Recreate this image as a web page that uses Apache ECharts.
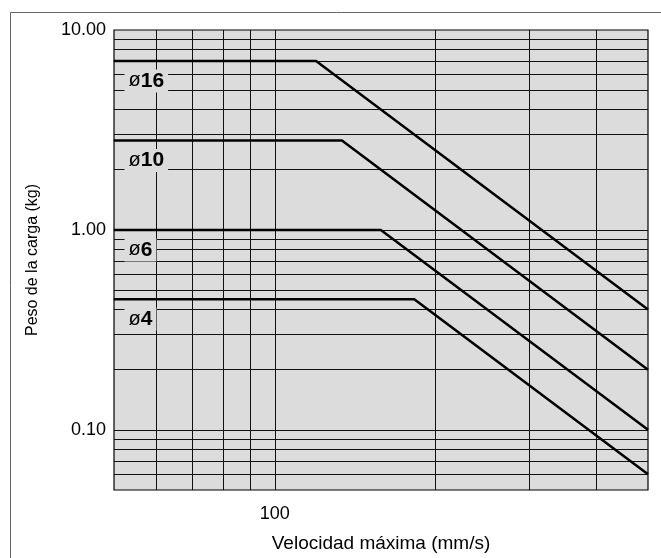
<!DOCTYPE html>
<html><head><meta charset="utf-8">
<script src="https://cdn.jsdelivr.net/npm/echarts@6/dist/echarts.min.js"></script>
<style>html,body{margin:0;padding:0;background:#fff;overflow:hidden}#c{width:661px;height:558px}</style>
</head><body><div id="c"></div>
<script>
// ---- data ----
const boreNames = ['16', '10', '6', '4'];            // cylinder bore (ø)
const flatLoad = [7.0, 2.8, 1.0, 0.45];             // kg, constant part
const cornerSpeed = [119.5, 133.6, 158, 182.5];     // mm/s, where the slope starts
const endLoad = [0.4, 0.2, 0.1, 0.06];              // kg at max speed
const speedRange = [50, 500];                       // mm/s
const loadRange = [0.05, 10];                       // kg
const xGridValues = [60, 70, 80, 90, 100, 200, 300, 400];
const yGridValues = [0.06, 0.07, 0.08, 0.09, 0.1, 0.2, 0.3, 0.4, 0.5, 0.6, 0.7, 0.8, 0.9,
                     1, 2, 3, 4, 5, 6, 7, 8, 9];
const xAxisTitle = 'Velocidad máxima (mm/s)';
const yAxisTitle = 'Peso de la carga (kg)';

const FONT = '"Liberation Sans", Arial, Helvetica, sans-serif';
const isDecade = v => Math.abs(Math.log10(v) - Math.round(Math.log10(v))) < 1e-6;

const chart = echarts.init(document.getElementById('c'), null, {renderer: 'canvas'});

const lineSeries = boreNames.map((name, i) => ({
  name: 'ø' + name,
  type: 'line',
  z: 5,
  symbol: 'none',
  animation: false,
  lineStyle: {color: '#000', width: 2.5},
  data: [[speedRange[0], flatLoad[i]], [cornerSpeed[i], flatLoad[i]], [speedRange[1], endLoad[i]]]
}));

const labelSeries = {
  type: 'scatter',
  z: 6,
  silent: true,
  animation: false,
  symbol: 'circle',
  symbolSize: 1,
  itemStyle: {color: '#000', opacity: 1},
  data: boreNames.map((name, i) => ({
    value: [speedRange[0], flatLoad[i]],
    label: {
      show: true,
      position: 'right',
      align: 'left',
      verticalAlign: 'middle',
      distance: 0,
      offset: [10, 20],
      color: '#000',
      opacity: 1,
      backgroundColor: '#dcdcdc',
      padding: [1, 4, 1, 4],
      textBorderWidth: 0,
      formatter: '{a|ø}{b|' + name + '}',
      rich: {
        a: {fontFamily: FONT, fontSize: 20, color: '#000', textBorderWidth: 0},
        b: {fontFamily: FONT, fontSize: 21, fontWeight: 'bold', color: '#000', textBorderWidth: 0}
      }
    }
  }))
};

const gridSeries = {
  type: 'line',
  z: 1,
  symbol: 'none',
  silent: true,
  animation: false,
  lineStyle: {opacity: 0},
  data: [[speedRange[0], loadRange[1]]],
  markLine: {
    silent: true,
    animation: false,
    symbol: ['none', 'none'],
    label: {show: false},
    lineStyle: {color: '#111', width: 1, type: 'solid'},
    emphasis: {disabled: true},
    data: xGridValues.map(v => ({xAxis: v})).concat(yGridValues.map(v => ({yAxis: v})))
  }
};

chart.setOption({
  animation: false,
  backgroundColor: '#fff',
  graphic: [{
    type: 'rect', left: 8, top: 10, silent: true,
    shape: {width: 700, height: 600},
    style: {fill: 'none', stroke: '#666', lineWidth: 1}
  }],
  grid: {
    left: 114, top: 30, right: 13, bottom: 60,
    show: true, backgroundColor: '#dcdcdc', borderColor: '#000', borderWidth: 1.2
  },
  xAxis: {
    type: 'log', logBase: 10, min: speedRange[0], max: speedRange[1],
    name: xAxisTitle, nameLocation: 'middle', nameGap: 44,
    nameTextStyle: {fontFamily: FONT, fontSize: 19, color: '#000'},
    axisLine: {show: false}, axisTick: {show: false}, splitLine: {show: false},
    axisLabel: {
      margin: 15, fontFamily: FONT, fontSize: 18, color: '#000',
      formatter: v => isDecade(v) ? String(Math.round(v)) : ''
    }
  },
  yAxis: {
    type: 'log', logBase: 10, min: loadRange[0], max: loadRange[1],
    name: yAxisTitle, nameLocation: 'middle', nameGap: 73, nameRotate: 90,
    nameTextStyle: {fontFamily: FONT, fontSize: 16, color: '#000'},
    axisLine: {show: false}, axisTick: {show: false}, splitLine: {show: false},
    axisLabel: {
      margin: 8, fontFamily: FONT, fontSize: 18, color: '#000',
      formatter: v => isDecade(v) ? v.toFixed(2) : ''
    }
  },
  series: [gridSeries].concat(lineSeries, [labelSeries])
});
</script>
</body></html>
